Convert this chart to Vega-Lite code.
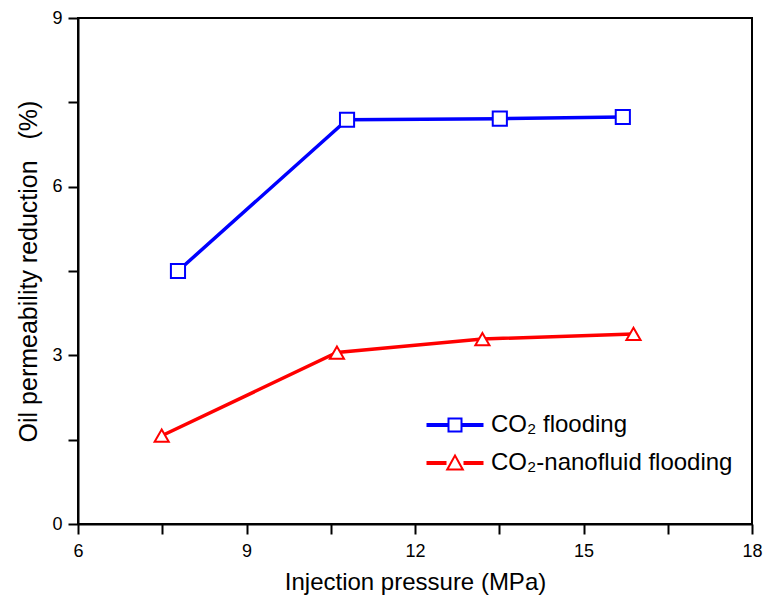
{
  "$schema": "https://vega.github.io/schema/vega-lite/v6.json",
  "autosize": "none",
  "width": 674,
  "height": 506,
  "padding": {"left": 78, "top": 18, "right": 14, "bottom": 82},
  "background": "white",
  "config": {
    "font": "Liberation Sans",
    "view": {"stroke": "black", "strokeWidth": 2},
    "axis": {"grid": false}
  },
  "data": {
    "values": [
      {"series": "CO₂ flooding", "p": 7.78, "r": 4.50},
      {"series": "CO₂ flooding", "p": 10.79, "r": 7.19},
      {"series": "CO₂ flooding", "p": 13.51, "r": 7.21},
      {"series": "CO₂ flooding", "p": 15.70, "r": 7.24},
      {"series": "CO₂-nanofluid flooding", "p": 7.49, "r": 1.57},
      {"series": "CO₂-nanofluid flooding", "p": 10.61, "r": 3.05},
      {"series": "CO₂-nanofluid flooding", "p": 13.20, "r": 3.29},
      {"series": "CO₂-nanofluid flooding", "p": 15.89, "r": 3.38}
    ]
  },
  "encoding": {
    "x": {
      "field": "p", "type": "quantitative",
      "scale": {"domain": [6, 18], "nice": false, "zero": false},
      "axis": {
        "title": "Injection pressure (MPa)",
        "values": [6, 7.5, 9, 10.5, 12, 13.5, 15, 16.5, 18],
        "labelExpr": "datum.value % 3 === 0 ? datum.label : ''",
        "domainColor": "black", "domainWidth": 2,
        "tickColor": "black", "tickWidth": 2, "tickSize": 10,
        "labelFontSize": 18, "labelColor": "black", "labelPadding": 8,
        "labelFlush": false,
        "titleFontSize": 24, "titleFontWeight": "normal", "titleColor": "black", "titlePadding": 10,
        "encode": {"ticks": {"update": {"y2": {"signal": "datum.value % 3 === 0 ? 10 : 6"}}}}
      }
    },
    "y": {
      "field": "r", "type": "quantitative",
      "scale": {"domain": [0, 9], "nice": false},
      "axis": {
        "title": "Oil permeability reduction\u00a0\u00a0\u00a0(%)",
        "values": [0, 1.5, 3, 4.5, 6, 7.5, 9],
        "labelExpr": "datum.value % 3 === 0 ? datum.label : ''",
        "domainColor": "black", "domainWidth": 2,
        "tickColor": "black", "tickWidth": 2, "tickSize": 10,
        "labelFontSize": 18, "labelColor": "black", "labelPadding": 6,
        "labelFlush": false,
        "titleFontSize": 25, "titleFontWeight": "normal", "titleColor": "black", "titlePadding": 10,
        "encode": {"ticks": {"update": {"x2": {"signal": "datum.value % 3 === 0 ? -10 : -6"}}}}
      }
    }
  },
  "layer": [
    {
      "mark": {"type": "line", "strokeWidth": 3.5},
      "encoding": {
        "color": {
          "field": "series", "type": "nominal",
          "scale": {"domain": ["CO₂ flooding", "CO₂-nanofluid flooding"], "range": ["#0000ff", "#ff0000"]},
          "legend": {
            "title": null,
            "orient": "none",
            "legendX": 365,
            "legendY": 395,
            "padding": 0,
            "symbolSize": 400,
            "labelFontSize": 24,
            "labelColor": "black",
            "labelOffset": 24,
            "rowPadding": 14,
            "labelLimit": 400,
            "encode": {
              "symbols": {
                "update": {
                  "shape": {"signal": "datum.index === 0 ? 'M-2.85,-0.2H-0.75V0.2H-2.85ZM0.75,-0.2H2.85V0.2H0.75ZM-0.75,-0.75H0.75V0.75H-0.75ZM-0.55,-0.55V0.55H0.55V-0.55Z' : 'M-2.85,-0.2H-0.85V0.2H-2.85ZM0.85,-0.2H2.85V0.2H0.85ZM0,-0.95L0.95,0.75H-0.95ZM0,-0.55L-0.6,0.55H0.6Z'"},
                  "fill": {"signal": "datum.index === 0 ? '#0000ff' : '#ff0000'"},
                  "fillOpacity": {"value": 1},
                  "stroke": {"value": "transparent"},
                  "strokeWidth": {"value": 0},
                  "size": {"value": 400}
                }
              }
            }
          }
        }
      }
    },
    {
      "transform": [{"filter": "datum.series === 'CO₂ flooding'"}],
      "mark": {"type": "point", "shape": "square", "filled": false, "fill": "white", "fillOpacity": 1, "stroke": "#0000ff", "strokeWidth": 2, "size": 200, "opacity": 1}
    },
    {
      "transform": [{"filter": "datum.series === 'CO₂-nanofluid flooding'"}],
      "mark": {"type": "point", "shape": "triangle-up", "filled": false, "fill": "white", "fillOpacity": 1, "stroke": "#ff0000", "strokeWidth": 2, "size": 200, "opacity": 1}
    }
  ]
}
